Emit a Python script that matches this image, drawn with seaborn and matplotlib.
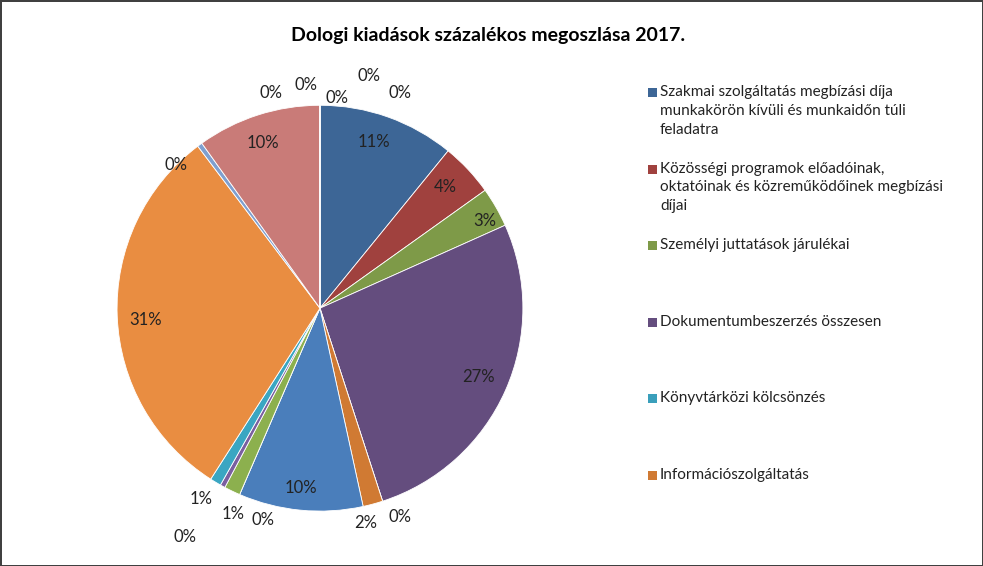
import matplotlib
matplotlib.use('Agg')
import matplotlib.pyplot as plt
import seaborn as sns
from matplotlib.patches import Rectangle
import numpy as np

sns.set_theme(style='white', font='Lato')

# data: slices clockwise from the top
values = [11.0, 4.3, 3.2, 27.0, 0.0, 1.6, 10.0, 0.0, 1.3, 0.4, 0.9, 31.0, 0.4, 10.0, 0.0, 0.0, 0.0, 0.0, 0.0]
pct_labels = ['11%', '4%', '3%', '27%', '0%', '2%', '10%', '0%', '1%', '0%', '1%', '31%', '0%', '10%',
              '0%', '0%', '0%', '0%', '0%']
colors = ['#3d6696', '#a0413e', '#7e9a48', '#644d7e', '#3a9fbb', '#d07a33', '#4a7ebb', '#8c3a38',
          '#8cb04e', '#7a5fa0', '#3aa6c2', '#e98d41', '#7f9fcf', '#c97b78',
          '#999999', '#999999', '#999999', '#999999', '#999999']
legend_names = ['Szakmai szolgáltatás megbízási díja\nmunkakörön kívüli és munkaidőn túli\nfeladatra',
                'Közösségi programok előadóinak,\noktatóinak és közreműködőinek megbízási\ndíjai',
                'Személyi juttatások járulékai',
                'Dokumentumbeszerzés összesen',
                'Könyvtárközi kölcsönzés',
                'Információszolgáltatás']

# label placement (angle deg, radius)
label_pos = [(72, .86), (44, .86), (28, .92), (-23.6, .85), (291, 1.1), (282, 1.08), (264, .89),
             (255, 1.08), (247, 1.1), (239.5, 1.31), (238, 1.11), (184, .86), (135, 1.0), (109, .86),
             (102.8, 1.09), (93.6, 1.1), (85.4, 1.04), (78, 1.17), (69.7, 1.13)]

fig = plt.figure(figsize=(9.83, 5.66), dpi=100)
fig.patch.set_edgecolor('#404040')
fig.patch.set_linewidth(2)
ax = fig.add_axes([0.119, 0.097, 0.413, 0.717])
ax.pie(values, colors=colors, startangle=90, counterclock=False, radius=1,
       wedgeprops=dict(edgecolor='white', linewidth=0.6))
ax.set_xlim(-1, 1)
ax.set_ylim(-1, 1)
ax.set_aspect('equal')
ax.axis('off')

for lab, (ang, r) in zip(pct_labels, label_pos):
    a = np.deg2rad(ang)
    ax.text(r * np.cos(a), r * np.sin(a), lab, ha='center', va='center', fontsize=12, color='#222222')

fig.text(0.497, 0.938, 'Dologi kiadások százalékos megoszlása 2017.', ha='center', va='center',
         fontsize=14, fontweight='bold', color='black')

# legend
for i, name in enumerate(legend_names):
    ytop = 1 - (87 + i * 76.5) / 566
    fig.patches.append(Rectangle((648 / 983, ytop - 10 / 566), 9 / 983, 9 / 566,
                                 transform=fig.transFigure, facecolor=colors[i], edgecolor='none'))
    fig.text(660 / 983, ytop + 2 / 566, name, ha='left', va='top', fontsize=11, color='#222222',
             linespacing=1.45)

plt.savefig('out.png', dpi=100)
